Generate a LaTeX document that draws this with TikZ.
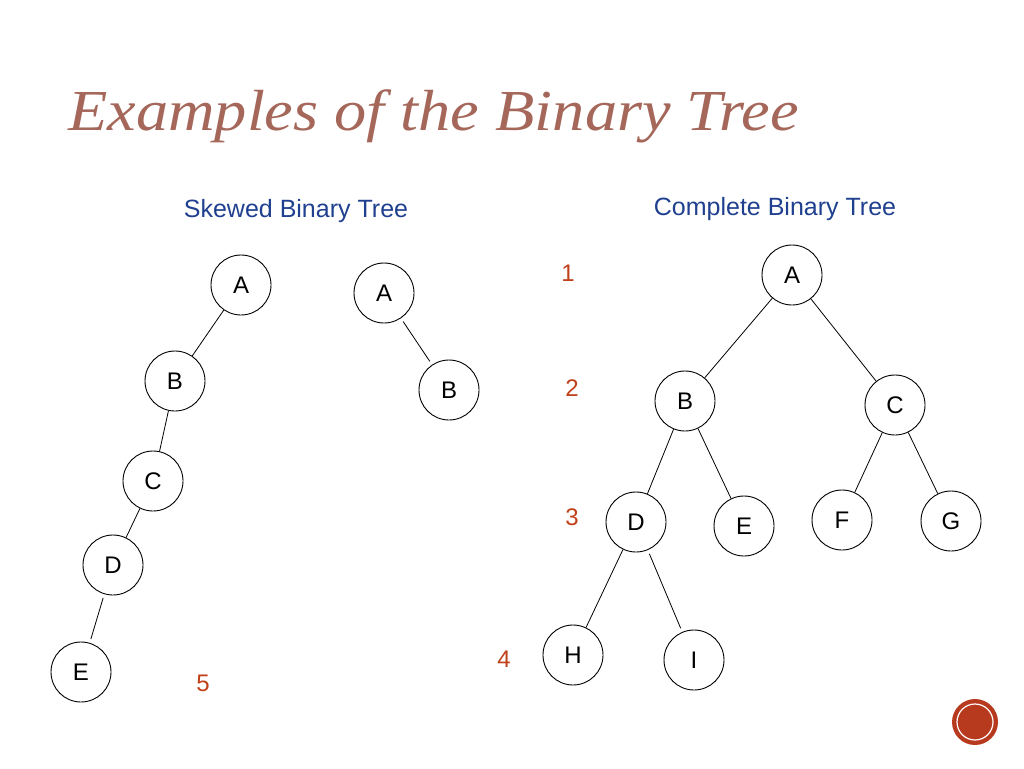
\documentclass[tikz,border=0pt]{standalone}
\usepackage{fontspec}
\setmainfont{Liberation Sans}
\newfontfamily\titlefont{Liberation Serif}
\definecolor{titlec}{HTML}{A5675A}
\definecolor{bluec}{HTML}{1F3F8F}
\definecolor{numc}{HTML}{C0401A}
\definecolor{iconc}{HTML}{B83A1E}
\begin{document}
\begin{tikzpicture}[x=1pt,y=-1pt,
  nd/.style={circle,draw,line width=0.9pt,minimum size=60pt,inner sep=0pt,font=\fontsize{24}{24}\selectfont},
  ed/.style={line width=0.8pt,shorten <=4pt,shorten >=4pt},
  num/.style={text=numc,font=\fontsize{24}{24}\selectfont},
  hd/.style={text=bluec,font=\fontsize{25}{25}\selectfont}]
\useasboundingbox (0,0) rectangle (1024,768);
\node[anchor=base west,text=titlec,font=\titlefont\itshape\fontsize{58}{58}\selectfont,inner sep=0pt,xscale=1.11] (title) at (68,130) {Examples of the Binary Tree};
\node[hd] (h1) at (296,211) {Skewed Binary Tree};
\node[hd] (h2) at (775,209) {Complete Binary Tree};
% skewed
\node[nd] (a1) at (241,285) {A};
\node[nd] (b1) at (175,381) {B};
\node[nd] (c1) at (153,481) {C};
\node[nd] (d1) at (113,565) {D};
\node[nd] (e1) at (81,672) {E};
\draw[ed] (a1)--(b1) (b1)--(c1) (c1)--(d1) (d1)--(e1);
\node[nd] (a2) at (384,293) {A};
\node[nd] (b2) at (449,390) {B};
\draw[ed] (a2)--(b2);
% complete
\node[nd] (A) at (792,275) {A};
\node[nd] (B) at (685,401) {B};
\node[nd] (C) at (895,405) {C};
\node[nd] (D) at (636,522) {D};
\node[nd] (E) at (744,526) {E};
\node[nd] (F) at (842,520) {F};
\node[nd] (G) at (951,521) {G};
\node[nd] (H) at (573,655) {H};
\node[nd] (I) at (694,660) {I};
\draw[ed] (A)--(B) (A)--(C) (B)--(D) (B)--(E) (C)--(F) (C)--(G) (D)--(H) (D)--(I);
\node[num] (n1) at (568,273) {1};
\node[num] (n2) at (572,388) {2};
\node[num] (n3) at (572,517) {3};
\node[num] (n4) at (504,659) {4};
\node[num] (n5) at (203,683) {5};
% icon
\fill[iconc] (975,722) circle (23);
\draw[white,line width=1.2pt] (975,722) circle (18);
\end{tikzpicture}
\end{document}
